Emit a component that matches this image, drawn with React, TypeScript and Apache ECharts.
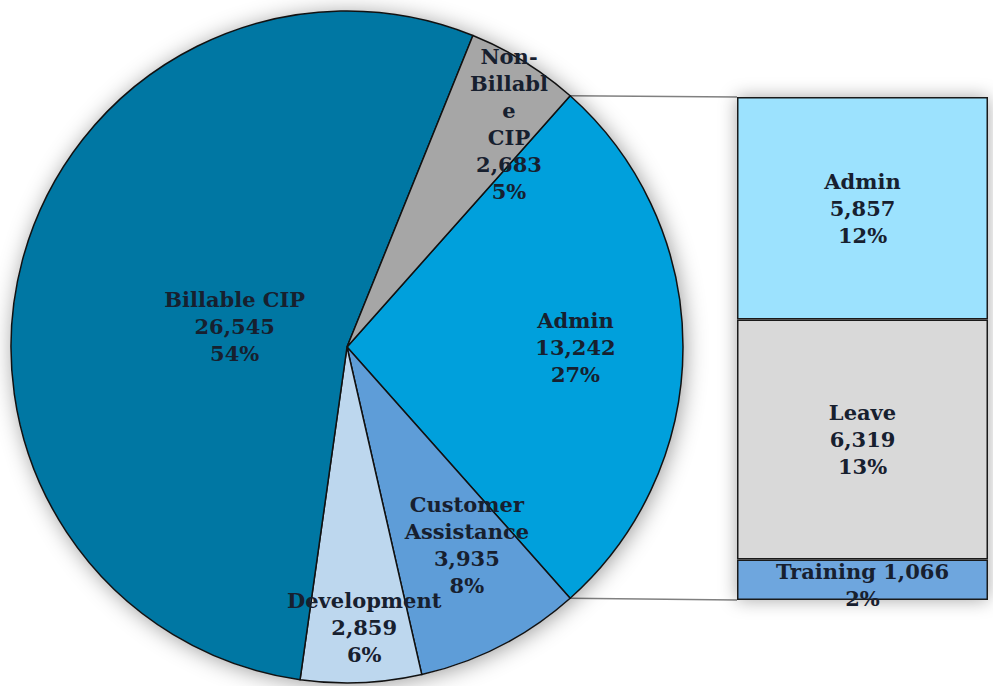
import React, { useEffect, useRef } from "react";
import * as echarts from "echarts";

// Pie slices, clockwise starting with the slice that is broken out into the bar
const pieNames = ["Admin", "Customer Assistance", "Development", "Billable CIP", "Non-Billable CIP"];
const pieValues = [13242, 3935, 2859, 26545, 2683];
const pieColors = ["#00A0DC", "#5E9DD8", "#BDD7EE", "#0077A3", "#A6A6A6"];

// Breakdown of the Admin slice, stacked bottom to top
const barNames = ["Training", "Leave", "Admin"];
const barValues = [1066, 6319, 5857];
const barColors = ["#6EA6DE", "#D9D9D9", "#9CE2FE"];

// Wrapped label text for long slice names
const pieLabelText: Record<string, string> = {
  "Customer Assistance": "Customer\nAssistance",
  "Non-Billable CIP": "Non-\nBillabl\ne\nCIP",
};

// Label placement per slice: [fraction of radius, angle tweak in degrees]
const labelPlacement: [number, number][] = [
  [0.68, 0],
  [0.69, 3.9],
  [0.835, 1.1],
  [0.34, 4.5],
  [0.82, -4.2],
];

const W = 993;
const H = 686;
const CX = 347;
const CY = 347;
const R = 336;
const BAR = { left: 737, top: 97, width: 251, height: 503 };

const TEXT_COLOR = "#17202f";
const FONT = "'DejaVu Serif', serif";

const fmt = (v: number) => v.toLocaleString("en-US");

export default function App() {
  const ref = useRef<HTMLDivElement>(null);

  useEffect(() => {
    if (!ref.current) return;
    const chart = echarts.init(ref.current, undefined, { renderer: "svg" });

    const total = pieValues.reduce((a, b) => a + b, 0);
    const barTotal = barValues.reduce((a, b) => a + b, 0);

    // The broken-out slice is centred on the 3 o'clock direction
    const startAngle = (pieValues[0] / total) * 180;

    // Mid angle of each slice (degrees, counter-clockwise from east)
    const midAngles: number[] = [];
    let acc = startAngle;
    pieValues.forEach((v) => {
      const span = (v / total) * 360;
      midAngles.push(acc - span / 2);
      acc -= span;
    });

    const a0 = (startAngle * Math.PI) / 180;
    const edgeX = CX + R * Math.cos(a0);
    const edgeTopY = CY - R * Math.sin(a0);
    const edgeBotY = CY + R * Math.sin(a0);

    const labelBase = {
      fontFamily: FONT,
      fontWeight: "bold" as const,
      fontSize: 21,
      lineHeight: 27,
      color: TEXT_COLOR,
    };

    chart.setOption({
      animation: false,
      backgroundColor: "#ffffff",
      grid: {
        left: BAR.left,
        top: BAR.top,
        width: BAR.width,
        height: BAR.height,
        show: true,
        backgroundColor: "#ffffff",
        borderWidth: 0,
        shadowBlur: 18,
        shadowColor: "rgba(0,0,0,0.35)",
      },
      xAxis: { type: "category", data: ["Admin"], show: false },
      yAxis: { type: "value", min: 0, max: barTotal, show: false },
      graphic: [
        {
          type: "line",
          z: -1,
          shape: { x1: edgeX, y1: edgeTopY, x2: BAR.left, y2: BAR.top },
          style: { stroke: "#808080", lineWidth: 1.5 },
        },
        {
          type: "line",
          z: -1,
          shape: { x1: edgeX, y1: edgeBotY, x2: BAR.left, y2: BAR.top + BAR.height },
          style: { stroke: "#808080", lineWidth: 1.5 },
        },
      ],
      series: [
        // soft drop shadow behind the pie
        {
          type: "pie",
          silent: true,
          center: [CX, CY],
          radius: R,
          z: 0,
          label: { show: false },
          labelLine: { show: false },
          itemStyle: {
            color: "#ffffff",
            shadowBlur: 22,
            shadowColor: "rgba(0,0,0,0.4)",
            shadowOffsetX: 2,
            shadowOffsetY: 2,
          },
          emphasis: { disabled: true },
          data: [{ value: 1, name: "" }],
        },
        {
          type: "pie",
          center: [CX, CY],
          radius: R,
          z: 2,
          startAngle,
          clockwise: true,
          avoidLabelOverlap: false,
          itemStyle: { borderColor: "#111111", borderWidth: 1.5 },
          emphasis: { disabled: true },
          label: {
            show: true,
            position: "inside",
            ...labelBase,
            formatter: (p: any) =>
              `${pieLabelText[p.name] ?? p.name}\n${fmt(p.value)}\n${Math.round(p.percent)}%`,
          },
          labelLine: { show: false },
          labelLayout: (params: any) => {
            const i = params.dataIndex;
            const [f, tweak] = labelPlacement[i];
            const a = ((midAngles[i] + tweak) * Math.PI) / 180;
            return {
              x: CX + f * R * Math.cos(a),
              y: CY - f * R * Math.sin(a),
              align: "center",
              verticalAlign: "middle",
            };
          },
          data: pieNames.map((name, i) => ({
            name,
            value: pieValues[i],
            itemStyle: { color: pieColors[i] },
          })),
        },
        ...barNames.map((name, i) => ({
          type: "bar",
          name,
          stack: "admin",
          barWidth: "100%",
          barCategoryGap: 0,
          z: 2,
          itemStyle: { color: barColors[i], borderColor: "#1a1a1a", borderWidth: 1.5 },
          emphasis: { disabled: true },
          label: {
            show: true,
            position: "inside",
            ...labelBase,
            offset: barValues[i] / barTotal < 0.1 ? [0, 5] : [0, 0],
            formatter: (p: any) => {
              const pct = Math.round((p.value / total) * 100);
              return p.value / barTotal < 0.1
                ? `${p.seriesName} ${fmt(p.value)}\n${pct}%`
                : `${p.seriesName}\n${fmt(p.value)}\n${pct}%`;
            },
          },
          data: [barValues[i]],
        })),
      ],
    });

    return () => chart.dispose();
  }, []);

  return (
    <div
      ref={ref}
      style={{ position: "absolute", left: 0, top: 0, width: W, height: H }}
    />
  );
}
